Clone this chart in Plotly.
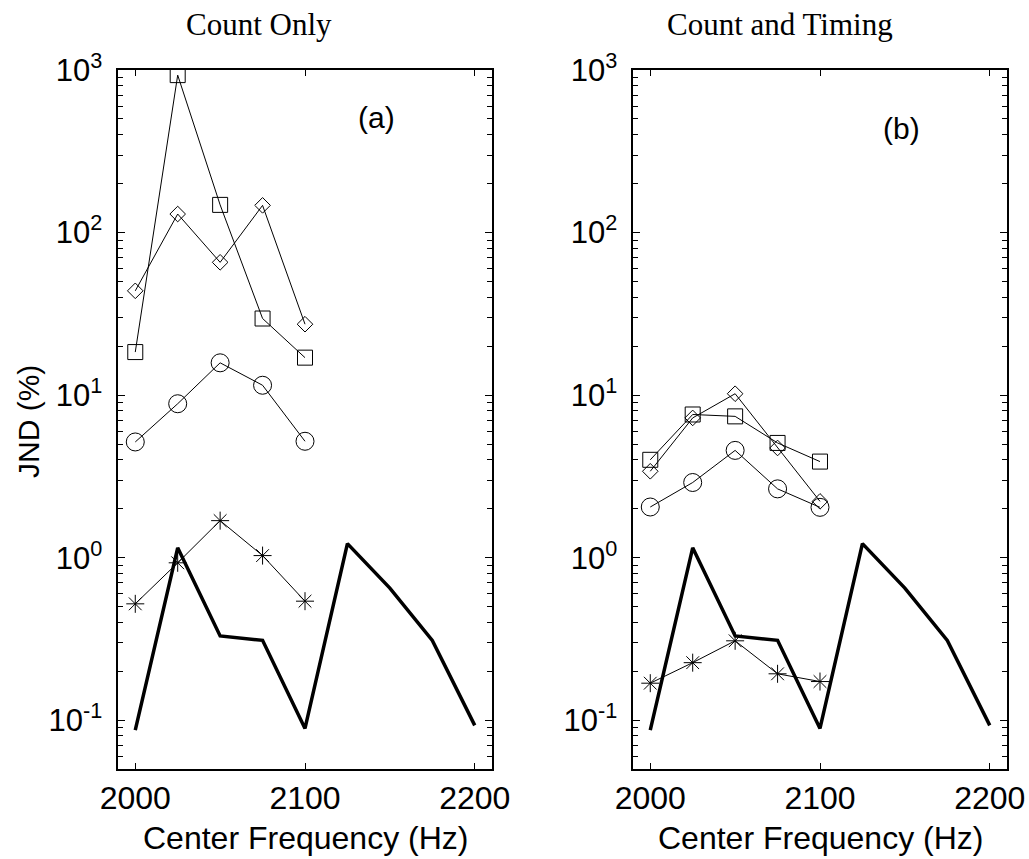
import plotly.graph_objects as go

# Center frequencies (Hz)
freq_tested = [2000, 2025, 2050, 2075, 2100]
freq_ref = [2000, 2025, 2050, 2075, 2100, 2125, 2150, 2175, 2200]

# Reference curve (thick line), same in both panels
ref_curve = [0.087, 1.15, 0.33, 0.31, 0.089, 1.22, 0.65, 0.31, 0.093]

# Panel (a): count only
a_square = [18.4, 930, 148, 29.6, 17.0]
a_diamond = [43.8, 130, 65.6, 147, 27.3]
a_circle = [5.15, 8.85, 15.8, 11.5, 5.2]
a_star = [0.52, 0.93, 1.69, 1.03, 0.54]

# Panel (b): count and timing
b_square = [4.0, 7.6, 7.4, 5.08, 3.9]
b_diamond = [3.4, 7.24, 10.2, 4.73, 2.22]
b_circle = [2.05, 2.9, 4.57, 2.65, 2.04]
b_star = [0.169, 0.226, 0.308, 0.193, 0.173]

panel_titles = ["Count Only", "Count and Timing"]
panel_tags = ["(a)", "(b)"]
y_tickvals = [0.1, 1, 10, 100, 1000]
y_ticktext = ["10<sup>-1</sup>", "10<sup>0</sup>", "10<sup>1</sup>", "10<sup>2</sup>", "10<sup>3</sup>"]
x_tickvals = [2000, 2100, 2200]

W, H = 1029, 859
SANS = "Liberation Sans, Arial, sans-serif"
SERIF = "Liberation Serif, Times New Roman, serif"

fig = go.Figure()

panels = [
    ("x", "y", a_square, a_diamond, a_circle, a_star),
    ("x2", "y2", b_square, b_diamond, b_circle, b_star),
]

thin = dict(color="black", width=1)
for xa, ya, sq, di, ci, st in panels:
    fig.add_trace(go.Scatter(x=freq_ref, y=ref_curve, xaxis=xa, yaxis=ya, mode="lines",
                             line=dict(color="black", width=3.5), showlegend=False))
    fig.add_trace(go.Scatter(x=freq_tested, y=sq, xaxis=xa, yaxis=ya, mode="lines+markers",
                             line=thin, showlegend=False,
                             marker=dict(symbol="square-open", size=15, color="black",
                                         line=dict(width=1, color="black"))))
    fig.add_trace(go.Scatter(x=freq_tested, y=di, xaxis=xa, yaxis=ya, mode="lines+markers",
                             line=thin, showlegend=False,
                             marker=dict(symbol="diamond-open", size=12, color="black",
                                         line=dict(width=1, color="black"))))
    fig.add_trace(go.Scatter(x=freq_tested, y=ci, xaxis=xa, yaxis=ya, mode="lines+markers",
                             line=thin, showlegend=False,
                             marker=dict(symbol="circle-open", size=18, color="black",
                                         line=dict(width=1, color="black"))))
    fig.add_trace(go.Scatter(x=freq_tested, y=st, xaxis=xa, yaxis=ya, mode="lines+markers",
                             line=thin, showlegend=False,
                             marker=dict(symbol="asterisk-open", size=15, color="black",
                                         line=dict(width=1, color="black"))))

# Plot-area geometry in pixels
left_px = [(118.3, 491.7), (633.3, 1006.7)]
top_px, bottom_px = 70, 769
ydom = [1 - bottom_px / H, 1 - top_px / H]
Y_RANGE = [-1.3, 3]

minor_vals = [m * 10 ** e for e in range(-2, 3) for m in range(2, 10)]
minor_vals = [v for v in minor_vals if 0.05 <= v <= 1000]

common_x = dict(range=[1990, 2210], tickvals=x_tickvals, ticks="inside", ticklen=6,
                mirror="ticks", showline=True, linecolor="black", linewidth=1.5,
                tickcolor="black", showgrid=False, zeroline=False,
                tickfont=dict(family=SANS, size=32, color="black"), automargin=False)
common_y = dict(type="log", range=Y_RANGE, tickvals=y_tickvals, ticktext=y_ticktext,
                ticks="inside", ticklen=7, mirror="ticks", showline=True,
                linecolor="black", linewidth=1.5, tickcolor="black", showgrid=False,
                zeroline=False, tickfont=dict(family=SANS, size=31, color="black"),
                ticklabelstandoff=8, automargin=False)
# Overlay axes that carry only the short minor ticks of each decade
minor_y = dict(type="log", range=Y_RANGE, tickvals=minor_vals, showticklabels=False,
               ticks="inside", ticklen=5, tickcolor="black", tickwidth=1,
               mirror="ticks", showline=False, showgrid=False, zeroline=False,
               domain=ydom, automargin=False)

fig.update_layout(
    xaxis=dict(domain=[left_px[0][0] / W, left_px[0][1] / W], anchor="y", **common_x),
    yaxis=dict(domain=ydom, anchor="x", **common_y),
    xaxis2=dict(domain=[left_px[1][0] / W, left_px[1][1] / W], anchor="y2", **common_x),
    yaxis2=dict(domain=ydom, anchor="x2", **common_y),
    yaxis3=dict(overlaying="y", anchor="x", side="left", **minor_y),
    yaxis4=dict(overlaying="y2", anchor="x2", side="left", **minor_y),
)

# Invisible traces so the minor-tick axes are drawn
for xa, ya in [("x", "y3"), ("x2", "y4")]:
    fig.add_trace(go.Scatter(x=[2000], y=[1], xaxis=xa, yaxis=ya, mode="markers",
                             marker=dict(opacity=0), hoverinfo="skip", showlegend=False))

annotations = []
title_centers = [259, 780]
for i in range(2):
    annotations.append(dict(text=panel_titles[i], x=title_centers[i] / W, y=1 - 25 / H,
                            xref="paper", yref="paper", showarrow=False,
                            xanchor="center", yanchor="middle",
                            font=dict(family=SERIF, size=31, color="black")))
    annotations.append(dict(text="Center Frequency (Hz)",
                            x=(left_px[i][0] + left_px[i][1]) / 2 / W, y=1 - 838 / H,
                            xref="paper", yref="paper", showarrow=False,
                            xanchor="center", yanchor="middle",
                            font=dict(family=SANS, size=32, color="black")))
annotations.append(dict(text=panel_tags[0], x=2142, y=2.71, xref="x", yref="y",
                        showarrow=False, xanchor="center", yanchor="middle",
                        font=dict(family=SANS, size=30, color="black")))
annotations.append(dict(text=panel_tags[1], x=2148, y=2.64, xref="x2", yref="y2",
                        showarrow=False, xanchor="center", yanchor="middle",
                        font=dict(family=SANS, size=30, color="black")))
annotations.append(dict(text="JND (%)", x=28 / W, y=1 - 422 / H, xref="paper", yref="paper",
                        showarrow=False, textangle=-90, xanchor="center", yanchor="middle",
                        font=dict(family=SANS, size=30, color="black")))

fig.update_layout(width=W, height=H, margin=dict(l=0, r=0, t=0, b=0),
                  paper_bgcolor="white", plot_bgcolor="white", annotations=annotations)

fig.write_html("out.html")
